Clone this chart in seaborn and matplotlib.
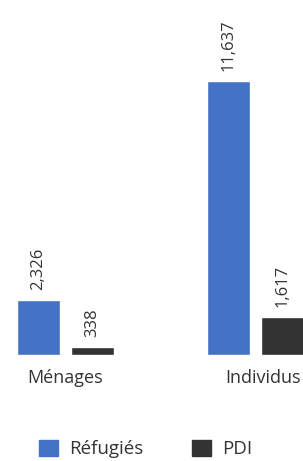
import pandas as pd
import matplotlib
matplotlib.use("Agg")
import matplotlib.pyplot as plt
import matplotlib.patches as mpatches
import seaborn as sns

# data
categories = ["Ménages", "Individus"]
series_names = ["Réfugiés", "PDI"]
refugies = [2326, 11637]
pdi = [338, 1617]
colors = ["#4472C4", "#333333"]
text_color = "#333333"

df = pd.DataFrame({
    "categorie": categories * 2,
    "groupe": [series_names[0]] * 2 + [series_names[1]] * 2,
    "valeur": refugies + pdi,
})

sns.set_style("white")
plt.rcParams["font.family"] = ["Open Sans", "DejaVu Sans"]

fig = plt.figure(figsize=(3.03, 4.61), dpi=100)
ax = fig.add_axes([0, 106 / 461, 1, 355 / 461])

sns.barplot(
    data=df, x="categorie", y="valeur", hue="groupe",
    palette=colors, width=0.57, gap=0.2, ax=ax, legend=False,
    saturation=1,
)

# étiquettes de valeurs (verticales)
for cont in ax.containers:
    ax.bar_label(cont, labels=[f"{v:,.0f}" for v in cont.datavalues],
                 rotation=90, padding=7, fontsize=12, color=text_color)

ax.set_xlim(-0.345, 1.25)
ax.set_ylim(0, 15074)
ax.set_xlabel("")
ax.set_ylabel("")
ax.set_yticks([])
ax.tick_params(axis="x", length=0, pad=10, labelsize=13, labelcolor=text_color)
ax.set_xticks([0, 1.04], categories)
for s in ax.spines.values():
    s.set_visible(False)

handles = [mpatches.Patch(color=c, label=n) for c, n in zip(colors, series_names)]
fig.legend(handles=handles, loc="center", bbox_to_anchor=(146 / 303, 12 / 461),
           ncol=2, frameon=False, fontsize=13.5, handlelength=1.0, handleheight=1.0,
           handletextpad=0.6, columnspacing=2.6, labelcolor=text_color)

fig.savefig("out.png", dpi=100)
